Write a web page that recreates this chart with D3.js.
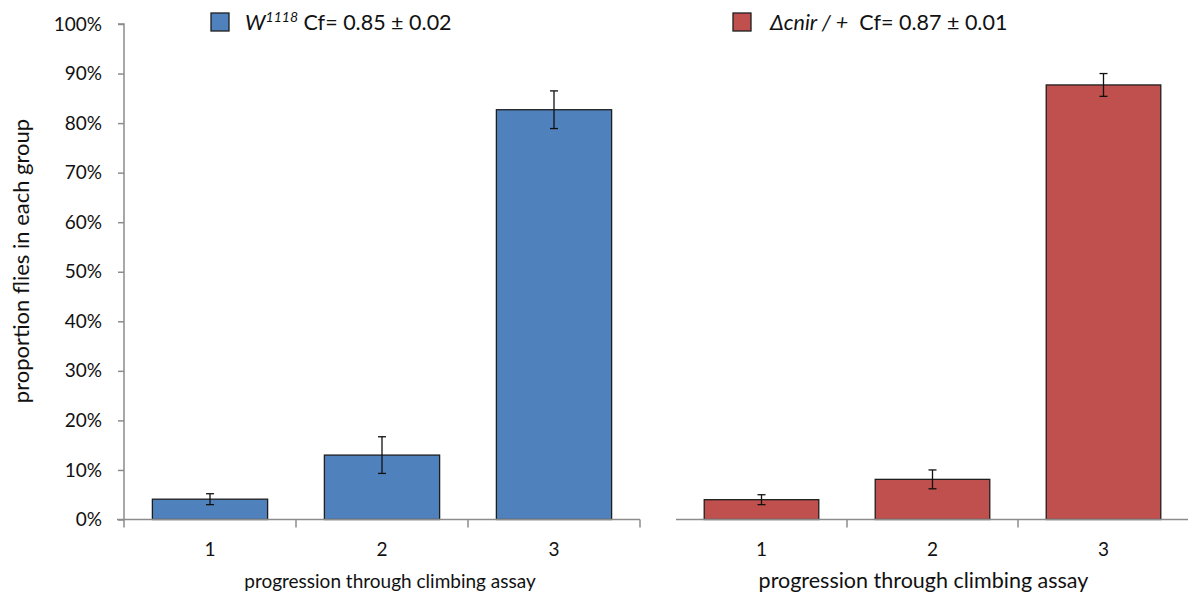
<!DOCTYPE html>
<html>
<head>
<meta charset="utf-8">
<script src="https://cdn.jsdelivr.net/npm/d3@7"></script>
<style>
  html, body { margin: 0; padding: 0; background: #fff; }
  svg { display: block; font-family: Lato, "Open Sans", "Liberation Sans", sans-serif; }
</style>
</head>
<body>
<svg id="chart" width="1188" height="594"></svg>
<script>
// Climbing assay: proportion of flies reaching each stage
const categories = ["1", "2", "3"];
const yTicks = [0, 0.1, 0.2, 0.3, 0.4, 0.5, 0.6, 0.7, 0.8, 0.9, 1.0];

const wValues = [0.041, 0.130, 0.827];
const wErrors = [0.011, 0.037, 0.038];

const cnirValues = [0.040, 0.081, 0.877];
const cnirErrors = [0.010, 0.019, 0.023];

const svg = d3.select("#chart");
const axisColor = "#8c8c8c";
const textColor = "#111";

const y = d3.scaleLinear().domain([0, 1]).range([519.5, 24]);

const panels = [
  { values: wValues, errors: wErrors, color: "#4F81BD", range: [124, 640], yAxis: true,
    legendX: 211, titleShift: 8, titleSize: 19 },
  { values: cnirValues, errors: cnirErrors, color: "#C0504D", range: [676, 1189], yAxis: false,
    legendX: 733, titleShift: -9, titleSize: 21.5 }
];

panels.forEach(p => {
  const x = d3.scaleBand().domain(categories).range(p.range).paddingInner(0.33).paddingOuter(0.165);
  const g = svg.append("g");

  // bars
  g.selectAll("rect.bar").data(categories).join("rect")
    .attr("class", "bar")
    .attr("x", (d) => x(d))
    .attr("width", x.bandwidth())
    .attr("y", (d, i) => y(p.values[i]))
    .attr("height", (d, i) => y(0) - y(p.values[i]))
    .attr("fill", p.color)
    .attr("stroke", "#1e1e1e")
    .attr("stroke-width", 1.3);

  // error bars
  categories.forEach((c, i) => {
    const cx = x(c) + x.bandwidth() / 2;
    const top = y(p.values[i] + p.errors[i]);
    const bot = y(p.values[i] - p.errors[i]);
    const eg = g.append("g").attr("stroke", "#111").attr("stroke-width", 1.3);
    eg.append("line").attr("x1", cx).attr("x2", cx).attr("y1", top).attr("y2", bot);
    eg.append("line").attr("x1", cx - 4).attr("x2", cx + 4).attr("y1", top).attr("y2", top);
    eg.append("line").attr("x1", cx - 4).attr("x2", cx + 4).attr("y1", bot).attr("y2", bot);
  });

  // x axis line and category separators
  const x0 = p.range[0], x1 = p.range[1];
  g.append("line").attr("x1", p.yAxis ? x0 - 7 : x0).attr("x2", x1)
    .attr("y1", y(0)).attr("y2", y(0)).attr("stroke", axisColor).attr("stroke-width", 1.5);
  const seps = d3.range(categories.length + 1).map(k => x0 + k * (x1 - x0) / categories.length);
  seps.forEach((sx, k) => {
    if (k === 0) return;
    g.append("line").attr("x1", sx).attr("x2", sx).attr("y1", y(0)).attr("y2", y(0) + 8)
      .attr("stroke", axisColor).attr("stroke-width", 1.5);
  });

  // category labels
  g.selectAll("text.cat").data(categories).join("text")
    .attr("class", "cat")
    .attr("x", (d) => x(d) + x.bandwidth() / 2)
    .attr("y", 556)
    .attr("text-anchor", "middle")
    .attr("font-size", 19)
    .attr("fill", textColor)
    .text(d => d);

  // x axis title
  g.append("text")
    .attr("x", (x0 + x1) / 2 + p.titleShift)
    .attr("y", 588)
    .attr("text-anchor", "middle")
    .attr("font-size", p.titleSize)
    .attr("fill", textColor)
    .text("progression through climbing assay");

  if (p.yAxis) {
    const ax = d3.axisLeft(y).tickValues(yTicks).tickFormat(d3.format(".0%")).tickSize(6).tickPadding(16);
    const ag = g.append("g").attr("transform", `translate(${x0},0)`).call(ax);
    ag.select(".domain").attr("stroke", axisColor).attr("stroke-width", 1.5)
      .attr("d", `M-6,${y(1)}H0V${y(0) + 8}`);
    ag.selectAll(".tick line").attr("stroke", axisColor).attr("stroke-width", 1.5);
    ag.selectAll(".tick text").attr("font-size", 19).attr("fill", textColor)
      .attr("font-family", 'Lato, "Open Sans", "Liberation Sans", sans-serif');

    svg.append("text")
      .attr("transform", `translate(29,261) rotate(-90)`)
      .attr("text-anchor", "middle")
      .attr("font-size", 22)
      .attr("fill", textColor)
      .text("proportion flies in each group");
  }

  // legend
  const lg = svg.append("g").attr("transform", `translate(${p.legendX},13)`);
  lg.append("rect").attr("width", 18).attr("height", 18).attr("fill", p.color)
    .attr("stroke", "#1e1e1e").attr("stroke-width", 1.3);
  p.legend = lg;
});

// legend labels
const t1 = panels[0].legend.append("text").attr("x", 34).attr("y", 17).attr("font-size", 21.5).attr("fill", textColor);
t1.append("tspan").attr("font-style", "italic").text("W");
t1.append("tspan").attr("font-style", "italic").attr("font-size", 14).attr("dy", -8).text("1118");
t1.append("tspan").attr("dy", 8).text(" Cf= 0.85 ± 0.02");

const t2 = panels[1].legend.append("text").attr("x", 37).attr("y", 17).attr("font-size", 21.5).attr("fill", textColor);
t2.append("tspan").attr("font-style", "italic").text("Δcnir / +");
t2.append("tspan").text("\u00a0 Cf= 0.87 ± 0.01");
</script>
</body>
</html>
